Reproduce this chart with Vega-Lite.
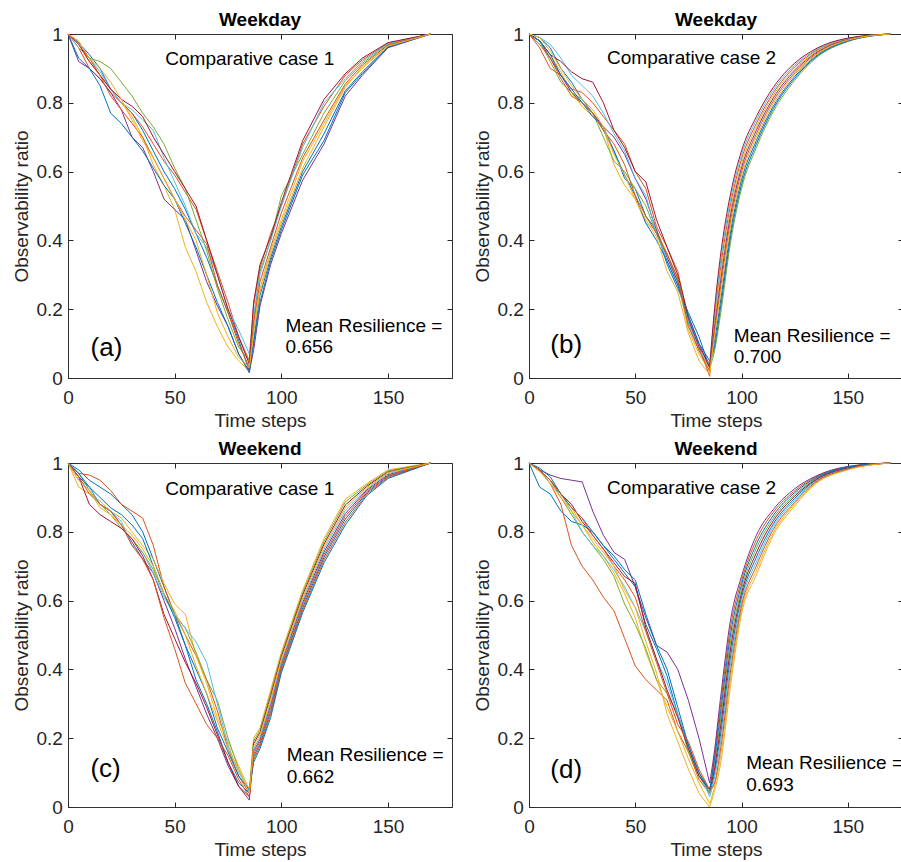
{
"$schema": "https://vega.github.io/schema/vega-lite/v6.json",
"padding": {"left": 12, "top": 10, "right": 0, "bottom": 0},
"autosize": {"type": "pad"},
"config": {
 "font": "Liberation Sans",
 "view": {"stroke": "#333333", "strokeWidth": 1},
 "range": {"category": ["#0072BD","#D95319","#EDB120","#7E2F8E","#77AC30","#4DBEEE","#A2142F","#0072BD","#D95319","#EDB120"]},
 "legend": {"disable": true},
 "axis": {"grid": false, "domain": false, "tickSize": -5, "tickColor": "#262626", "tickWidth": 1, "labelFont": "Liberation Sans", "labelFontSize": 19, "labelColor": "#262626", "titleFont": "Liberation Sans", "titleFontSize": 19, "titleFontWeight": "normal", "titleColor": "#262626", "labelFlush": false},
 "axisBottom": {"labelPadding": 15.7, "titlePadding": 4},
 "axisLeft": {"labelPadding": 10.7, "titlePadding": 4},
 "title": {"font": "Liberation Sans", "fontSize": 19, "fontWeight": "bold", "color": "#000000", "offset": -5, "baseline": "alphabetic", "anchor": "middle", "frame": "group"},
 "line": {"strokeWidth": 1}
},
"datasets": {
"a": [
{"s":0,"t":0,"v":1},{"s":0,"t":5,"v":0.975},{"s":0,"t":10,"v":0.94},{"s":0,"t":15,"v":0.9},{"s":0,"t":20,"v":0.84},{"s":0,"t":25,"v":0.8},{"s":0,"t":30,"v":0.77},{"s":0,"t":35,"v":0.72},{"s":0,"t":40,"v":0.66},{"s":0,"t":45,"v":0.6},{"s":0,"t":50,"v":0.55},{"s":0,"t":55,"v":0.49},{"s":0,"t":60,"v":0.42},{"s":0,"t":65,"v":0.35},{"s":0,"t":70,"v":0.27},{"s":0,"t":75,"v":0.19},{"s":0,"t":80,"v":0.11},{"s":0,"t":85,"v":0.02},{"s":0,"t":87,"v":0.11},{"s":0,"t":90,"v":0.24},{"s":0,"t":95,"v":0.35},{"s":0,"t":100,"v":0.44},{"s":0,"t":110,"v":0.6},{"s":0,"t":120,"v":0.71},{"s":0,"t":130,"v":0.835},{"s":0,"t":138,"v":0.89},{"s":0,"t":150,"v":0.963},{"s":0,"t":170,"v":1},
{"s":1,"t":0,"v":1},{"s":1,"t":5,"v":0.96},{"s":1,"t":10,"v":0.9},{"s":1,"t":15,"v":0.87},{"s":1,"t":20,"v":0.83},{"s":1,"t":25,"v":0.8},{"s":1,"t":30,"v":0.77},{"s":1,"t":35,"v":0.73},{"s":1,"t":40,"v":0.68},{"s":1,"t":45,"v":0.63},{"s":1,"t":50,"v":0.59},{"s":1,"t":55,"v":0.54},{"s":1,"t":60,"v":0.49},{"s":1,"t":65,"v":0.4},{"s":1,"t":70,"v":0.31},{"s":1,"t":75,"v":0.22},{"s":1,"t":80,"v":0.12},{"s":1,"t":85,"v":0.05},{"s":1,"t":87,"v":0.21},{"s":1,"t":90,"v":0.32},{"s":1,"t":95,"v":0.42},{"s":1,"t":100,"v":0.5},{"s":1,"t":110,"v":0.68},{"s":1,"t":120,"v":0.79},{"s":1,"t":130,"v":0.88},{"s":1,"t":138,"v":0.925},{"s":1,"t":150,"v":0.973},{"s":1,"t":170,"v":1},
{"s":2,"t":0,"v":1},{"s":2,"t":5,"v":0.97},{"s":2,"t":10,"v":0.92},{"s":2,"t":15,"v":0.88},{"s":2,"t":20,"v":0.84},{"s":2,"t":25,"v":0.8},{"s":2,"t":30,"v":0.76},{"s":2,"t":35,"v":0.7},{"s":2,"t":40,"v":0.62},{"s":2,"t":45,"v":0.56},{"s":2,"t":50,"v":0.49},{"s":2,"t":55,"v":0.38},{"s":2,"t":60,"v":0.31},{"s":2,"t":65,"v":0.22},{"s":2,"t":70,"v":0.15},{"s":2,"t":75,"v":0.09},{"s":2,"t":80,"v":0.05},{"s":2,"t":85,"v":0.02},{"s":2,"t":87,"v":0.14},{"s":2,"t":90,"v":0.26},{"s":2,"t":95,"v":0.37},{"s":2,"t":100,"v":0.46},{"s":2,"t":110,"v":0.63},{"s":2,"t":120,"v":0.74},{"s":2,"t":130,"v":0.85},{"s":2,"t":138,"v":0.9},{"s":2,"t":150,"v":0.966},{"s":2,"t":170,"v":1},
{"s":3,"t":0,"v":1},{"s":3,"t":5,"v":0.92},{"s":3,"t":10,"v":0.9},{"s":3,"t":15,"v":0.87},{"s":3,"t":20,"v":0.83},{"s":3,"t":25,"v":0.78},{"s":3,"t":30,"v":0.7},{"s":3,"t":35,"v":0.67},{"s":3,"t":40,"v":0.6},{"s":3,"t":45,"v":0.52},{"s":3,"t":50,"v":0.49},{"s":3,"t":55,"v":0.46},{"s":3,"t":60,"v":0.37},{"s":3,"t":65,"v":0.28},{"s":3,"t":70,"v":0.21},{"s":3,"t":75,"v":0.15},{"s":3,"t":80,"v":0.07},{"s":3,"t":85,"v":0.02},{"s":3,"t":87,"v":0.08},{"s":3,"t":90,"v":0.21},{"s":3,"t":95,"v":0.33},{"s":3,"t":100,"v":0.42},{"s":3,"t":110,"v":0.575},{"s":3,"t":120,"v":0.68},{"s":3,"t":130,"v":0.82},{"s":3,"t":138,"v":0.88},{"s":3,"t":150,"v":0.96},{"s":3,"t":170,"v":1},
{"s":4,"t":0,"v":1},{"s":4,"t":5,"v":0.97},{"s":4,"t":10,"v":0.93},{"s":4,"t":15,"v":0.92},{"s":4,"t":20,"v":0.9},{"s":4,"t":25,"v":0.86},{"s":4,"t":30,"v":0.82},{"s":4,"t":35,"v":0.77},{"s":4,"t":40,"v":0.73},{"s":4,"t":45,"v":0.68},{"s":4,"t":50,"v":0.61},{"s":4,"t":55,"v":0.55},{"s":4,"t":60,"v":0.46},{"s":4,"t":65,"v":0.37},{"s":4,"t":70,"v":0.26},{"s":4,"t":75,"v":0.17},{"s":4,"t":80,"v":0.09},{"s":4,"t":85,"v":0.05},{"s":4,"t":87,"v":0.17},{"s":4,"t":90,"v":0.31},{"s":4,"t":95,"v":0.4},{"s":4,"t":100,"v":0.53},{"s":4,"t":110,"v":0.65},{"s":4,"t":120,"v":0.77},{"s":4,"t":130,"v":0.865},{"s":4,"t":138,"v":0.915},{"s":4,"t":150,"v":0.97},{"s":4,"t":170,"v":1},
{"s":5,"t":0,"v":1},{"s":5,"t":5,"v":0.96},{"s":5,"t":10,"v":0.93},{"s":5,"t":15,"v":0.89},{"s":5,"t":20,"v":0.84},{"s":5,"t":25,"v":0.8},{"s":5,"t":30,"v":0.78},{"s":5,"t":35,"v":0.75},{"s":5,"t":40,"v":0.72},{"s":5,"t":45,"v":0.64},{"s":5,"t":50,"v":0.57},{"s":5,"t":55,"v":0.5},{"s":5,"t":60,"v":0.42},{"s":5,"t":65,"v":0.38},{"s":5,"t":70,"v":0.3},{"s":5,"t":75,"v":0.2},{"s":5,"t":80,"v":0.14},{"s":5,"t":85,"v":0.07},{"s":5,"t":87,"v":0.18},{"s":5,"t":90,"v":0.3},{"s":5,"t":95,"v":0.4},{"s":5,"t":100,"v":0.5},{"s":5,"t":110,"v":0.67},{"s":5,"t":120,"v":0.8},{"s":5,"t":130,"v":0.87},{"s":5,"t":138,"v":0.92},{"s":5,"t":150,"v":0.972},{"s":5,"t":170,"v":1},
{"s":6,"t":0,"v":1},{"s":6,"t":5,"v":0.97},{"s":6,"t":10,"v":0.92},{"s":6,"t":15,"v":0.88},{"s":6,"t":20,"v":0.84},{"s":6,"t":25,"v":0.81},{"s":6,"t":30,"v":0.79},{"s":6,"t":35,"v":0.76},{"s":6,"t":40,"v":0.7},{"s":6,"t":45,"v":0.65},{"s":6,"t":50,"v":0.6},{"s":6,"t":55,"v":0.55},{"s":6,"t":60,"v":0.5},{"s":6,"t":65,"v":0.4},{"s":6,"t":70,"v":0.3},{"s":6,"t":75,"v":0.2},{"s":6,"t":80,"v":0.12},{"s":6,"t":85,"v":0.04},{"s":6,"t":87,"v":0.22},{"s":6,"t":90,"v":0.33},{"s":6,"t":95,"v":0.41},{"s":6,"t":100,"v":0.51},{"s":6,"t":110,"v":0.69},{"s":6,"t":120,"v":0.81},{"s":6,"t":130,"v":0.885},{"s":6,"t":138,"v":0.93},{"s":6,"t":150,"v":0.975},{"s":6,"t":170,"v":1},
{"s":7,"t":0,"v":1},{"s":7,"t":5,"v":0.93},{"s":7,"t":10,"v":0.9},{"s":7,"t":15,"v":0.85},{"s":7,"t":20,"v":0.77},{"s":7,"t":25,"v":0.74},{"s":7,"t":30,"v":0.7},{"s":7,"t":35,"v":0.66},{"s":7,"t":40,"v":0.61},{"s":7,"t":45,"v":0.56},{"s":7,"t":50,"v":0.52},{"s":7,"t":55,"v":0.45},{"s":7,"t":60,"v":0.38},{"s":7,"t":65,"v":0.3},{"s":7,"t":70,"v":0.22},{"s":7,"t":75,"v":0.15},{"s":7,"t":80,"v":0.07},{"s":7,"t":85,"v":0.015},{"s":7,"t":87,"v":0.1},{"s":7,"t":90,"v":0.22},{"s":7,"t":95,"v":0.34},{"s":7,"t":100,"v":0.43},{"s":7,"t":110,"v":0.59},{"s":7,"t":120,"v":0.69},{"s":7,"t":130,"v":0.83},{"s":7,"t":138,"v":0.885},{"s":7,"t":150,"v":0.962},{"s":7,"t":170,"v":1},
{"s":8,"t":0,"v":1},{"s":8,"t":5,"v":0.97},{"s":8,"t":10,"v":0.93},{"s":8,"t":15,"v":0.88},{"s":8,"t":20,"v":0.82},{"s":8,"t":25,"v":0.78},{"s":8,"t":30,"v":0.74},{"s":8,"t":35,"v":0.7},{"s":8,"t":40,"v":0.64},{"s":8,"t":45,"v":0.58},{"s":8,"t":50,"v":0.52},{"s":8,"t":55,"v":0.47},{"s":8,"t":60,"v":0.43},{"s":8,"t":65,"v":0.39},{"s":8,"t":70,"v":0.27},{"s":8,"t":75,"v":0.19},{"s":8,"t":80,"v":0.1},{"s":8,"t":85,"v":0.03},{"s":8,"t":87,"v":0.16},{"s":8,"t":90,"v":0.28},{"s":8,"t":95,"v":0.38},{"s":8,"t":100,"v":0.48},{"s":8,"t":110,"v":0.64},{"s":8,"t":120,"v":0.75},{"s":8,"t":130,"v":0.855},{"s":8,"t":138,"v":0.91},{"s":8,"t":150,"v":0.968},{"s":8,"t":170,"v":1},
{"s":9,"t":0,"v":1},{"s":9,"t":5,"v":0.98},{"s":9,"t":10,"v":0.93},{"s":9,"t":15,"v":0.9},{"s":9,"t":20,"v":0.86},{"s":9,"t":25,"v":0.81},{"s":9,"t":30,"v":0.75},{"s":9,"t":35,"v":0.69},{"s":9,"t":40,"v":0.64},{"s":9,"t":45,"v":0.58},{"s":9,"t":50,"v":0.52},{"s":9,"t":55,"v":0.46},{"s":9,"t":60,"v":0.4},{"s":9,"t":65,"v":0.3},{"s":9,"t":70,"v":0.19},{"s":9,"t":75,"v":0.12},{"s":9,"t":80,"v":0.06},{"s":9,"t":85,"v":0.03},{"s":9,"t":87,"v":0.13},{"s":9,"t":90,"v":0.25},{"s":9,"t":95,"v":0.36},{"s":9,"t":100,"v":0.45},{"s":9,"t":110,"v":0.61},{"s":9,"t":120,"v":0.73},{"s":9,"t":130,"v":0.845},{"s":9,"t":138,"v":0.905},{"s":9,"t":150,"v":0.965},{"s":9,"t":170,"v":1}
],
"b": [
{"s":0,"t":0,"v":1},{"s":0,"t":5,"v":0.99},{"s":0,"t":10,"v":0.96},{"s":0,"t":15,"v":0.9},{"s":0,"t":20,"v":0.86},{"s":0,"t":25,"v":0.81},{"s":0,"t":30,"v":0.77},{"s":0,"t":35,"v":0.72},{"s":0,"t":40,"v":0.66},{"s":0,"t":45,"v":0.58},{"s":0,"t":50,"v":0.55},{"s":0,"t":55,"v":0.47},{"s":0,"t":60,"v":0.43},{"s":0,"t":65,"v":0.33},{"s":0,"t":70,"v":0.26},{"s":0,"t":75,"v":0.19},{"s":0,"t":80,"v":0.12},{"s":0,"t":85,"v":0.03},{"s":0,"t":87,"v":0.095},{"s":0,"t":90,"v":0.218},{"s":0,"t":95,"v":0.431},{"s":0,"t":100,"v":0.575},{"s":0,"t":107,"v":0.69},{"s":0,"t":115,"v":0.79},{"s":0,"t":125,"v":0.876},{"s":0,"t":135,"v":0.936},{"s":0,"t":150,"v":0.981},{"s":0,"t":170,"v":1},
{"s":1,"t":0,"v":1},{"s":1,"t":5,"v":0.96},{"s":1,"t":10,"v":0.9},{"s":1,"t":15,"v":0.88},{"s":1,"t":20,"v":0.84},{"s":1,"t":25,"v":0.83},{"s":1,"t":30,"v":0.8},{"s":1,"t":35,"v":0.76},{"s":1,"t":40,"v":0.72},{"s":1,"t":45,"v":0.68},{"s":1,"t":50,"v":0.6},{"s":1,"t":55,"v":0.55},{"s":1,"t":60,"v":0.44},{"s":1,"t":65,"v":0.38},{"s":1,"t":70,"v":0.31},{"s":1,"t":75,"v":0.17},{"s":1,"t":80,"v":0.09},{"s":1,"t":85,"v":0.005},{"s":1,"t":87,"v":0.156},{"s":1,"t":90,"v":0.312},{"s":1,"t":95,"v":0.509},{"s":1,"t":100,"v":0.636},{"s":1,"t":107,"v":0.74},{"s":1,"t":115,"v":0.829},{"s":1,"t":125,"v":0.904},{"s":1,"t":135,"v":0.951},{"s":1,"t":150,"v":0.986},{"s":1,"t":170,"v":1},
{"s":2,"t":0,"v":1},{"s":2,"t":5,"v":0.98},{"s":2,"t":10,"v":0.94},{"s":2,"t":15,"v":0.89},{"s":2,"t":20,"v":0.83},{"s":2,"t":25,"v":0.79},{"s":2,"t":30,"v":0.76},{"s":2,"t":35,"v":0.73},{"s":2,"t":40,"v":0.62},{"s":2,"t":45,"v":0.56},{"s":2,"t":50,"v":0.52},{"s":2,"t":55,"v":0.45},{"s":2,"t":60,"v":0.43},{"s":2,"t":65,"v":0.36},{"s":2,"t":70,"v":0.28},{"s":2,"t":75,"v":0.14},{"s":2,"t":80,"v":0.07},{"s":2,"t":85,"v":0.02},{"s":2,"t":87,"v":0.143},{"s":2,"t":90,"v":0.293},{"s":2,"t":95,"v":0.493},{"s":2,"t":100,"v":0.623},{"s":2,"t":107,"v":0.73},{"s":2,"t":115,"v":0.822},{"s":2,"t":125,"v":0.898},{"s":2,"t":135,"v":0.948},{"s":2,"t":150,"v":0.985},{"s":2,"t":170,"v":1},
{"s":3,"t":0,"v":1},{"s":3,"t":5,"v":0.98},{"s":3,"t":10,"v":0.93},{"s":3,"t":15,"v":0.88},{"s":3,"t":20,"v":0.83},{"s":3,"t":25,"v":0.8},{"s":3,"t":30,"v":0.77},{"s":3,"t":35,"v":0.73},{"s":3,"t":40,"v":0.7},{"s":3,"t":45,"v":0.65},{"s":3,"t":50,"v":0.58},{"s":3,"t":55,"v":0.52},{"s":3,"t":60,"v":0.43},{"s":3,"t":65,"v":0.35},{"s":3,"t":70,"v":0.28},{"s":3,"t":75,"v":0.17},{"s":3,"t":80,"v":0.09},{"s":3,"t":85,"v":0.04},{"s":3,"t":87,"v":0.131},{"s":3,"t":90,"v":0.274},{"s":3,"t":95,"v":0.478},{"s":3,"t":100,"v":0.611},{"s":3,"t":107,"v":0.72},{"s":3,"t":115,"v":0.814},{"s":3,"t":125,"v":0.893},{"s":3,"t":135,"v":0.945},{"s":3,"t":150,"v":0.984},{"s":3,"t":170,"v":1},
{"s":4,"t":0,"v":1},{"s":4,"t":5,"v":0.98},{"s":4,"t":10,"v":0.92},{"s":4,"t":15,"v":0.86},{"s":4,"t":20,"v":0.83},{"s":4,"t":25,"v":0.81},{"s":4,"t":30,"v":0.77},{"s":4,"t":35,"v":0.7},{"s":4,"t":40,"v":0.63},{"s":4,"t":45,"v":0.6},{"s":4,"t":50,"v":0.55},{"s":4,"t":55,"v":0.5},{"s":4,"t":60,"v":0.42},{"s":4,"t":65,"v":0.36},{"s":4,"t":70,"v":0.29},{"s":4,"t":75,"v":0.16},{"s":4,"t":80,"v":0.08},{"s":4,"t":85,"v":0.03},{"s":4,"t":87,"v":0.07},{"s":4,"t":90,"v":0.18},{"s":4,"t":95,"v":0.4},{"s":4,"t":100,"v":0.55},{"s":4,"t":107,"v":0.67},{"s":4,"t":115,"v":0.775},{"s":4,"t":125,"v":0.865},{"s":4,"t":135,"v":0.93},{"s":4,"t":150,"v":0.978},{"s":4,"t":170,"v":1},
{"s":5,"t":0,"v":1},{"s":5,"t":5,"v":0.99},{"s":5,"t":10,"v":0.97},{"s":5,"t":15,"v":0.93},{"s":5,"t":20,"v":0.88},{"s":5,"t":25,"v":0.85},{"s":5,"t":30,"v":0.82},{"s":5,"t":35,"v":0.77},{"s":5,"t":40,"v":0.71},{"s":5,"t":45,"v":0.66},{"s":5,"t":50,"v":0.58},{"s":5,"t":55,"v":0.53},{"s":5,"t":60,"v":0.42},{"s":5,"t":65,"v":0.34},{"s":5,"t":70,"v":0.27},{"s":5,"t":75,"v":0.16},{"s":5,"t":80,"v":0.08},{"s":5,"t":85,"v":0.04},{"s":5,"t":87,"v":0.168},{"s":5,"t":90,"v":0.331},{"s":5,"t":95,"v":0.524},{"s":5,"t":100,"v":0.648},{"s":5,"t":107,"v":0.75},{"s":5,"t":115,"v":0.837},{"s":5,"t":125,"v":0.909},{"s":5,"t":135,"v":0.954},{"s":5,"t":150,"v":0.987},{"s":5,"t":170,"v":1},
{"s":6,"t":0,"v":1},{"s":6,"t":5,"v":0.98},{"s":6,"t":10,"v":0.94},{"s":6,"t":15,"v":0.92},{"s":6,"t":20,"v":0.89},{"s":6,"t":25,"v":0.87},{"s":6,"t":30,"v":0.86},{"s":6,"t":35,"v":0.8},{"s":6,"t":40,"v":0.72},{"s":6,"t":45,"v":0.67},{"s":6,"t":50,"v":0.6},{"s":6,"t":55,"v":0.57},{"s":6,"t":60,"v":0.46},{"s":6,"t":65,"v":0.38},{"s":6,"t":70,"v":0.3},{"s":6,"t":75,"v":0.18},{"s":6,"t":80,"v":0.1},{"s":6,"t":85,"v":0.03},{"s":6,"t":87,"v":0.18},{"s":6,"t":90,"v":0.35},{"s":6,"t":95,"v":0.54},{"s":6,"t":100,"v":0.66},{"s":6,"t":107,"v":0.76},{"s":6,"t":115,"v":0.845},{"s":6,"t":125,"v":0.915},{"s":6,"t":135,"v":0.957},{"s":6,"t":150,"v":0.988},{"s":6,"t":170,"v":1},
{"s":7,"t":0,"v":1},{"s":7,"t":5,"v":0.98},{"s":7,"t":10,"v":0.94},{"s":7,"t":15,"v":0.88},{"s":7,"t":20,"v":0.84},{"s":7,"t":25,"v":0.8},{"s":7,"t":30,"v":0.76},{"s":7,"t":35,"v":0.73},{"s":7,"t":40,"v":0.66},{"s":7,"t":45,"v":0.59},{"s":7,"t":50,"v":0.53},{"s":7,"t":55,"v":0.45},{"s":7,"t":60,"v":0.4},{"s":7,"t":65,"v":0.34},{"s":7,"t":70,"v":0.27},{"s":7,"t":75,"v":0.18},{"s":7,"t":80,"v":0.1},{"s":7,"t":85,"v":0.05},{"s":7,"t":87,"v":0.082},{"s":7,"t":90,"v":0.199},{"s":7,"t":95,"v":0.416},{"s":7,"t":100,"v":0.562},{"s":7,"t":107,"v":0.68},{"s":7,"t":115,"v":0.783},{"s":7,"t":125,"v":0.871},{"s":7,"t":135,"v":0.933},{"s":7,"t":150,"v":0.979},{"s":7,"t":170,"v":1},
{"s":8,"t":0,"v":1},{"s":8,"t":5,"v":0.97},{"s":8,"t":10,"v":0.93},{"s":8,"t":15,"v":0.87},{"s":8,"t":20,"v":0.82},{"s":8,"t":25,"v":0.8},{"s":8,"t":30,"v":0.77},{"s":8,"t":35,"v":0.72},{"s":8,"t":40,"v":0.68},{"s":8,"t":45,"v":0.62},{"s":8,"t":50,"v":0.53},{"s":8,"t":55,"v":0.47},{"s":8,"t":60,"v":0.42},{"s":8,"t":65,"v":0.36},{"s":8,"t":70,"v":0.29},{"s":8,"t":75,"v":0.15},{"s":8,"t":80,"v":0.08},{"s":8,"t":85,"v":0.02},{"s":8,"t":87,"v":0.119},{"s":8,"t":90,"v":0.256},{"s":8,"t":95,"v":0.462},{"s":8,"t":100,"v":0.599},{"s":8,"t":107,"v":0.71},{"s":8,"t":115,"v":0.806},{"s":8,"t":125,"v":0.887},{"s":8,"t":135,"v":0.942},{"s":8,"t":150,"v":0.983},{"s":8,"t":170,"v":1},
{"s":9,"t":0,"v":1},{"s":9,"t":5,"v":0.99},{"s":9,"t":10,"v":0.95},{"s":9,"t":15,"v":0.9},{"s":9,"t":20,"v":0.85},{"s":9,"t":25,"v":0.81},{"s":9,"t":30,"v":0.78},{"s":9,"t":35,"v":0.73},{"s":9,"t":40,"v":0.65},{"s":9,"t":45,"v":0.59},{"s":9,"t":50,"v":0.52},{"s":9,"t":55,"v":0.46},{"s":9,"t":60,"v":0.41},{"s":9,"t":65,"v":0.31},{"s":9,"t":70,"v":0.25},{"s":9,"t":75,"v":0.13},{"s":9,"t":80,"v":0.05},{"s":9,"t":85,"v":0.01},{"s":9,"t":87,"v":0.107},{"s":9,"t":90,"v":0.237},{"s":9,"t":95,"v":0.447},{"s":9,"t":100,"v":0.587},{"s":9,"t":107,"v":0.7},{"s":9,"t":115,"v":0.798},{"s":9,"t":125,"v":0.882},{"s":9,"t":135,"v":0.939},{"s":9,"t":150,"v":0.982},{"s":9,"t":170,"v":1}
],
"c": [
{"s":0,"t":0,"v":1},{"s":0,"t":5,"v":0.98},{"s":0,"t":10,"v":0.95},{"s":0,"t":15,"v":0.93},{"s":0,"t":20,"v":0.91},{"s":0,"t":25,"v":0.88},{"s":0,"t":30,"v":0.85},{"s":0,"t":35,"v":0.8},{"s":0,"t":40,"v":0.72},{"s":0,"t":45,"v":0.64},{"s":0,"t":50,"v":0.56},{"s":0,"t":55,"v":0.47},{"s":0,"t":60,"v":0.37},{"s":0,"t":65,"v":0.3},{"s":0,"t":70,"v":0.22},{"s":0,"t":75,"v":0.13},{"s":0,"t":80,"v":0.07},{"s":0,"t":85,"v":0.04},{"s":0,"t":87,"v":0.146},{"s":0,"t":90,"v":0.183},{"s":0,"t":95,"v":0.278},{"s":0,"t":100,"v":0.403},{"s":0,"t":110,"v":0.579},{"s":0,"t":120,"v":0.726},{"s":0,"t":130,"v":0.837},{"s":0,"t":140,"v":0.913},{"s":0,"t":150,"v":0.961},{"s":0,"t":170,"v":1},
{"s":1,"t":0,"v":1},{"s":1,"t":5,"v":0.97},{"s":1,"t":10,"v":0.965},{"s":1,"t":15,"v":0.95},{"s":1,"t":20,"v":0.92},{"s":1,"t":25,"v":0.88},{"s":1,"t":30,"v":0.86},{"s":1,"t":35,"v":0.84},{"s":1,"t":40,"v":0.76},{"s":1,"t":45,"v":0.64},{"s":1,"t":50,"v":0.56},{"s":1,"t":55,"v":0.5},{"s":1,"t":60,"v":0.44},{"s":1,"t":65,"v":0.37},{"s":1,"t":70,"v":0.28},{"s":1,"t":75,"v":0.17},{"s":1,"t":80,"v":0.09},{"s":1,"t":85,"v":0.04},{"s":1,"t":87,"v":0.138},{"s":1,"t":90,"v":0.177},{"s":1,"t":95,"v":0.269},{"s":1,"t":100,"v":0.397},{"s":1,"t":110,"v":0.572},{"s":1,"t":120,"v":0.718},{"s":1,"t":130,"v":0.828},{"s":1,"t":140,"v":0.909},{"s":1,"t":150,"v":0.958},{"s":1,"t":170,"v":1},
{"s":2,"t":0,"v":1},{"s":2,"t":5,"v":0.93},{"s":2,"t":10,"v":0.91},{"s":2,"t":15,"v":0.89},{"s":2,"t":20,"v":0.86},{"s":2,"t":25,"v":0.84},{"s":2,"t":30,"v":0.8},{"s":2,"t":35,"v":0.76},{"s":2,"t":40,"v":0.72},{"s":2,"t":45,"v":0.65},{"s":2,"t":50,"v":0.59},{"s":2,"t":55,"v":0.56},{"s":2,"t":60,"v":0.44},{"s":2,"t":65,"v":0.36},{"s":2,"t":70,"v":0.26},{"s":2,"t":75,"v":0.19},{"s":2,"t":80,"v":0.12},{"s":2,"t":85,"v":0.05},{"s":2,"t":87,"v":0.2},{"s":2,"t":90,"v":0.23},{"s":2,"t":95,"v":0.34},{"s":2,"t":100,"v":0.45},{"s":2,"t":110,"v":0.63},{"s":2,"t":120,"v":0.78},{"s":2,"t":130,"v":0.895},{"s":2,"t":140,"v":0.94},{"s":2,"t":150,"v":0.98},{"s":2,"t":170,"v":1},
{"s":3,"t":0,"v":1},{"s":3,"t":5,"v":0.96},{"s":3,"t":10,"v":0.93},{"s":3,"t":15,"v":0.88},{"s":3,"t":20,"v":0.86},{"s":3,"t":25,"v":0.82},{"s":3,"t":30,"v":0.77},{"s":3,"t":35,"v":0.72},{"s":3,"t":40,"v":0.68},{"s":3,"t":45,"v":0.6},{"s":3,"t":50,"v":0.52},{"s":3,"t":55,"v":0.43},{"s":3,"t":60,"v":0.35},{"s":3,"t":65,"v":0.27},{"s":3,"t":70,"v":0.2},{"s":3,"t":75,"v":0.12},{"s":3,"t":80,"v":0.06},{"s":3,"t":85,"v":0.02},{"s":3,"t":87,"v":0.161},{"s":3,"t":90,"v":0.197},{"s":3,"t":95,"v":0.296},{"s":3,"t":100,"v":0.417},{"s":3,"t":110,"v":0.594},{"s":3,"t":120,"v":0.741},{"s":3,"t":130,"v":0.853},{"s":3,"t":140,"v":0.921},{"s":3,"t":150,"v":0.966},{"s":3,"t":170,"v":1},
{"s":4,"t":0,"v":1},{"s":4,"t":5,"v":0.97},{"s":4,"t":10,"v":0.92},{"s":4,"t":15,"v":0.88},{"s":4,"t":20,"v":0.85},{"s":4,"t":25,"v":0.81},{"s":4,"t":30,"v":0.78},{"s":4,"t":35,"v":0.74},{"s":4,"t":40,"v":0.69},{"s":4,"t":45,"v":0.62},{"s":4,"t":50,"v":0.56},{"s":4,"t":55,"v":0.52},{"s":4,"t":60,"v":0.45},{"s":4,"t":65,"v":0.37},{"s":4,"t":70,"v":0.31},{"s":4,"t":75,"v":0.2},{"s":4,"t":80,"v":0.11},{"s":4,"t":85,"v":0.04},{"s":4,"t":87,"v":0.192},{"s":4,"t":90,"v":0.223},{"s":4,"t":95,"v":0.331},{"s":4,"t":100,"v":0.443},{"s":4,"t":110,"v":0.623},{"s":4,"t":120,"v":0.772},{"s":4,"t":130,"v":0.887},{"s":4,"t":140,"v":0.936},{"s":4,"t":150,"v":0.977},{"s":4,"t":170,"v":1},
{"s":5,"t":0,"v":1},{"s":5,"t":5,"v":0.95},{"s":5,"t":10,"v":0.93},{"s":5,"t":15,"v":0.88},{"s":5,"t":20,"v":0.86},{"s":5,"t":25,"v":0.83},{"s":5,"t":30,"v":0.76},{"s":5,"t":35,"v":0.74},{"s":5,"t":40,"v":0.68},{"s":5,"t":45,"v":0.61},{"s":5,"t":50,"v":0.56},{"s":5,"t":55,"v":0.52},{"s":5,"t":60,"v":0.48},{"s":5,"t":65,"v":0.42},{"s":5,"t":70,"v":0.3},{"s":5,"t":75,"v":0.18},{"s":5,"t":80,"v":0.1},{"s":5,"t":85,"v":0.05},{"s":5,"t":87,"v":0.169},{"s":5,"t":90,"v":0.203},{"s":5,"t":95,"v":0.304},{"s":5,"t":100,"v":0.423},{"s":5,"t":110,"v":0.601},{"s":5,"t":120,"v":0.749},{"s":5,"t":130,"v":0.862},{"s":5,"t":140,"v":0.924},{"s":5,"t":150,"v":0.969},{"s":5,"t":170,"v":1},
{"s":6,"t":0,"v":1},{"s":6,"t":5,"v":0.96},{"s":6,"t":10,"v":0.88},{"s":6,"t":15,"v":0.85},{"s":6,"t":20,"v":0.83},{"s":6,"t":25,"v":0.81},{"s":6,"t":30,"v":0.78},{"s":6,"t":35,"v":0.73},{"s":6,"t":40,"v":0.66},{"s":6,"t":45,"v":0.56},{"s":6,"t":50,"v":0.49},{"s":6,"t":55,"v":0.42},{"s":6,"t":60,"v":0.36},{"s":6,"t":65,"v":0.29},{"s":6,"t":70,"v":0.21},{"s":6,"t":75,"v":0.13},{"s":6,"t":80,"v":0.06},{"s":6,"t":85,"v":0.03},{"s":6,"t":87,"v":0.184},{"s":6,"t":90,"v":0.217},{"s":6,"t":95,"v":0.322},{"s":6,"t":100,"v":0.437},{"s":6,"t":110,"v":0.616},{"s":6,"t":120,"v":0.764},{"s":6,"t":130,"v":0.878},{"s":6,"t":140,"v":0.932},{"s":6,"t":150,"v":0.974},{"s":6,"t":170,"v":1},
{"s":7,"t":0,"v":1},{"s":7,"t":5,"v":0.97},{"s":7,"t":10,"v":0.93},{"s":7,"t":15,"v":0.9},{"s":7,"t":20,"v":0.87},{"s":7,"t":25,"v":0.85},{"s":7,"t":30,"v":0.82},{"s":7,"t":35,"v":0.78},{"s":7,"t":40,"v":0.7},{"s":7,"t":45,"v":0.62},{"s":7,"t":50,"v":0.55},{"s":7,"t":55,"v":0.47},{"s":7,"t":60,"v":0.4},{"s":7,"t":65,"v":0.33},{"s":7,"t":70,"v":0.23},{"s":7,"t":75,"v":0.16},{"s":7,"t":80,"v":0.09},{"s":7,"t":85,"v":0.05},{"s":7,"t":87,"v":0.13},{"s":7,"t":90,"v":0.17},{"s":7,"t":95,"v":0.26},{"s":7,"t":100,"v":0.39},{"s":7,"t":110,"v":0.565},{"s":7,"t":120,"v":0.71},{"s":7,"t":130,"v":0.82},{"s":7,"t":140,"v":0.905},{"s":7,"t":150,"v":0.955},{"s":7,"t":170,"v":1},
{"s":8,"t":0,"v":1},{"s":8,"t":5,"v":0.96},{"s":8,"t":10,"v":0.91},{"s":8,"t":15,"v":0.88},{"s":8,"t":20,"v":0.86},{"s":8,"t":25,"v":0.82},{"s":8,"t":30,"v":0.76},{"s":8,"t":35,"v":0.72},{"s":8,"t":40,"v":0.66},{"s":8,"t":45,"v":0.55},{"s":8,"t":50,"v":0.46},{"s":8,"t":55,"v":0.36},{"s":8,"t":60,"v":0.3},{"s":8,"t":65,"v":0.24},{"s":8,"t":70,"v":0.2},{"s":8,"t":75,"v":0.15},{"s":8,"t":80,"v":0.08},{"s":8,"t":85,"v":0.03},{"s":8,"t":87,"v":0.153},{"s":8,"t":90,"v":0.19},{"s":8,"t":95,"v":0.287},{"s":8,"t":100,"v":0.41},{"s":8,"t":110,"v":0.587},{"s":8,"t":120,"v":0.733},{"s":8,"t":130,"v":0.845},{"s":8,"t":140,"v":0.917},{"s":8,"t":150,"v":0.963},{"s":8,"t":170,"v":1},
{"s":9,"t":0,"v":1},{"s":9,"t":5,"v":0.95},{"s":9,"t":10,"v":0.92},{"s":9,"t":15,"v":0.87},{"s":9,"t":20,"v":0.85},{"s":9,"t":25,"v":0.82},{"s":9,"t":30,"v":0.79},{"s":9,"t":35,"v":0.75},{"s":9,"t":40,"v":0.7},{"s":9,"t":45,"v":0.62},{"s":9,"t":50,"v":0.57},{"s":9,"t":55,"v":0.5},{"s":9,"t":60,"v":0.41},{"s":9,"t":65,"v":0.33},{"s":9,"t":70,"v":0.25},{"s":9,"t":75,"v":0.17},{"s":9,"t":80,"v":0.11},{"s":9,"t":85,"v":0.04},{"s":9,"t":87,"v":0.177},{"s":9,"t":90,"v":0.21},{"s":9,"t":95,"v":0.313},{"s":9,"t":100,"v":0.43},{"s":9,"t":110,"v":0.608},{"s":9,"t":120,"v":0.757},{"s":9,"t":130,"v":0.87},{"s":9,"t":140,"v":0.928},{"s":9,"t":150,"v":0.972},{"s":9,"t":170,"v":1}
],
"d": [
{"s":0,"t":0,"v":1},{"s":0,"t":5,"v":0.93},{"s":0,"t":10,"v":0.91},{"s":0,"t":15,"v":0.86},{"s":0,"t":20,"v":0.83},{"s":0,"t":25,"v":0.82},{"s":0,"t":30,"v":0.8},{"s":0,"t":35,"v":0.76},{"s":0,"t":40,"v":0.72},{"s":0,"t":45,"v":0.68},{"s":0,"t":50,"v":0.64},{"s":0,"t":55,"v":0.53},{"s":0,"t":60,"v":0.46},{"s":0,"t":65,"v":0.38},{"s":0,"t":70,"v":0.27},{"s":0,"t":75,"v":0.18},{"s":0,"t":80,"v":0.1},{"s":0,"t":85,"v":0.04},{"s":0,"t":87,"v":0.089},{"s":0,"t":90,"v":0.204},{"s":0,"t":95,"v":0.444},{"s":0,"t":100,"v":0.609},{"s":0,"t":107,"v":0.726},{"s":0,"t":115,"v":0.823},{"s":0,"t":125,"v":0.897},{"s":0,"t":135,"v":0.95},{"s":0,"t":150,"v":0.984},{"s":0,"t":170,"v":1},
{"s":1,"t":0,"v":1},{"s":1,"t":5,"v":0.98},{"s":1,"t":10,"v":0.94},{"s":1,"t":15,"v":0.88},{"s":1,"t":20,"v":0.76},{"s":1,"t":25,"v":0.7},{"s":1,"t":30,"v":0.66},{"s":1,"t":35,"v":0.61},{"s":1,"t":40,"v":0.57},{"s":1,"t":45,"v":0.49},{"s":1,"t":50,"v":0.41},{"s":1,"t":55,"v":0.37},{"s":1,"t":60,"v":0.34},{"s":1,"t":65,"v":0.31},{"s":1,"t":70,"v":0.22},{"s":1,"t":75,"v":0.16},{"s":1,"t":80,"v":0.08},{"s":1,"t":85,"v":0.04},{"s":1,"t":87,"v":0.138},{"s":1,"t":90,"v":0.289},{"s":1,"t":95,"v":0.529},{"s":1,"t":100,"v":0.658},{"s":1,"t":107,"v":0.777},{"s":1,"t":115,"v":0.857},{"s":1,"t":125,"v":0.919},{"s":1,"t":135,"v":0.96},{"s":1,"t":150,"v":0.989},{"s":1,"t":170,"v":1},
{"s":2,"t":0,"v":1},{"s":2,"t":5,"v":0.975},{"s":2,"t":10,"v":0.95},{"s":2,"t":15,"v":0.91},{"s":2,"t":20,"v":0.87},{"s":2,"t":25,"v":0.82},{"s":2,"t":30,"v":0.77},{"s":2,"t":35,"v":0.73},{"s":2,"t":40,"v":0.68},{"s":2,"t":45,"v":0.62},{"s":2,"t":50,"v":0.55},{"s":2,"t":55,"v":0.45},{"s":2,"t":60,"v":0.37},{"s":2,"t":65,"v":0.29},{"s":2,"t":70,"v":0.22},{"s":2,"t":75,"v":0.14},{"s":2,"t":80,"v":0.07},{"s":2,"t":85,"v":0.01},{"s":2,"t":87,"v":0.052},{"s":2,"t":90,"v":0.141},{"s":2,"t":95,"v":0.381},{"s":2,"t":100,"v":0.572},{"s":2,"t":107,"v":0.688},{"s":2,"t":115,"v":0.798},{"s":2,"t":125,"v":0.881},{"s":2,"t":135,"v":0.942},{"s":2,"t":150,"v":0.981},{"s":2,"t":170,"v":1},
{"s":3,"t":0,"v":1},{"s":3,"t":5,"v":0.98},{"s":3,"t":10,"v":0.965},{"s":3,"t":15,"v":0.955},{"s":3,"t":20,"v":0.95},{"s":3,"t":25,"v":0.945},{"s":3,"t":30,"v":0.86},{"s":3,"t":35,"v":0.79},{"s":3,"t":40,"v":0.74},{"s":3,"t":45,"v":0.72},{"s":3,"t":50,"v":0.64},{"s":3,"t":55,"v":0.55},{"s":3,"t":60,"v":0.47},{"s":3,"t":65,"v":0.45},{"s":3,"t":70,"v":0.4},{"s":3,"t":75,"v":0.31},{"s":3,"t":80,"v":0.2},{"s":3,"t":85,"v":0.07},{"s":3,"t":87,"v":0.15},{"s":3,"t":90,"v":0.31},{"s":3,"t":95,"v":0.55},{"s":3,"t":100,"v":0.67},{"s":3,"t":107,"v":0.79},{"s":3,"t":115,"v":0.865},{"s":3,"t":125,"v":0.925},{"s":3,"t":135,"v":0.962},{"s":3,"t":150,"v":0.99},{"s":3,"t":170,"v":1},
{"s":4,"t":0,"v":1},{"s":4,"t":5,"v":0.98},{"s":4,"t":10,"v":0.95},{"s":4,"t":15,"v":0.9},{"s":4,"t":20,"v":0.85},{"s":4,"t":25,"v":0.8},{"s":4,"t":30,"v":0.76},{"s":4,"t":35,"v":0.72},{"s":4,"t":40,"v":0.67},{"s":4,"t":45,"v":0.59},{"s":4,"t":50,"v":0.53},{"s":4,"t":55,"v":0.46},{"s":4,"t":60,"v":0.37},{"s":4,"t":65,"v":0.33},{"s":4,"t":70,"v":0.27},{"s":4,"t":75,"v":0.16},{"s":4,"t":80,"v":0.09},{"s":4,"t":85,"v":0.04},{"s":4,"t":87,"v":0.113},{"s":4,"t":90,"v":0.247},{"s":4,"t":95,"v":0.487},{"s":4,"t":100,"v":0.633},{"s":4,"t":107,"v":0.752},{"s":4,"t":115,"v":0.84},{"s":4,"t":125,"v":0.908},{"s":4,"t":135,"v":0.955},{"s":4,"t":150,"v":0.987},{"s":4,"t":170,"v":1},
{"s":5,"t":0,"v":1},{"s":5,"t":5,"v":0.98},{"s":5,"t":10,"v":0.94},{"s":5,"t":15,"v":0.91},{"s":5,"t":20,"v":0.86},{"s":5,"t":25,"v":0.8},{"s":5,"t":30,"v":0.76},{"s":5,"t":35,"v":0.73},{"s":5,"t":40,"v":0.69},{"s":5,"t":45,"v":0.64},{"s":5,"t":50,"v":0.58},{"s":5,"t":55,"v":0.51},{"s":5,"t":60,"v":0.43},{"s":5,"t":65,"v":0.36},{"s":5,"t":70,"v":0.27},{"s":5,"t":75,"v":0.17},{"s":5,"t":80,"v":0.1},{"s":5,"t":85,"v":0.03},{"s":5,"t":87,"v":0.077},{"s":5,"t":90,"v":0.183},{"s":5,"t":95,"v":0.423},{"s":5,"t":100,"v":0.597},{"s":5,"t":107,"v":0.713},{"s":5,"t":115,"v":0.815},{"s":5,"t":125,"v":0.892},{"s":5,"t":135,"v":0.947},{"s":5,"t":150,"v":0.983},{"s":5,"t":170,"v":1},
{"s":6,"t":0,"v":1},{"s":6,"t":5,"v":0.98},{"s":6,"t":10,"v":0.95},{"s":6,"t":15,"v":0.91},{"s":6,"t":20,"v":0.88},{"s":6,"t":25,"v":0.83},{"s":6,"t":30,"v":0.79},{"s":6,"t":35,"v":0.75},{"s":6,"t":40,"v":0.71},{"s":6,"t":45,"v":0.67},{"s":6,"t":50,"v":0.65},{"s":6,"t":55,"v":0.52},{"s":6,"t":60,"v":0.43},{"s":6,"t":65,"v":0.34},{"s":6,"t":70,"v":0.26},{"s":6,"t":75,"v":0.17},{"s":6,"t":80,"v":0.09},{"s":6,"t":85,"v":0.05},{"s":6,"t":87,"v":0.101},{"s":6,"t":90,"v":0.226},{"s":6,"t":95,"v":0.466},{"s":6,"t":100,"v":0.621},{"s":6,"t":107,"v":0.739},{"s":6,"t":115,"v":0.832},{"s":6,"t":125,"v":0.903},{"s":6,"t":135,"v":0.952},{"s":6,"t":150,"v":0.986},{"s":6,"t":170,"v":1},
{"s":7,"t":0,"v":1},{"s":7,"t":5,"v":0.985},{"s":7,"t":10,"v":0.96},{"s":7,"t":15,"v":0.91},{"s":7,"t":20,"v":0.87},{"s":7,"t":25,"v":0.84},{"s":7,"t":30,"v":0.8},{"s":7,"t":35,"v":0.76},{"s":7,"t":40,"v":0.73},{"s":7,"t":45,"v":0.69},{"s":7,"t":50,"v":0.66},{"s":7,"t":55,"v":0.56},{"s":7,"t":60,"v":0.47},{"s":7,"t":65,"v":0.4},{"s":7,"t":70,"v":0.29},{"s":7,"t":75,"v":0.18},{"s":7,"t":80,"v":0.1},{"s":7,"t":85,"v":0.05},{"s":7,"t":87,"v":0.126},{"s":7,"t":90,"v":0.268},{"s":7,"t":95,"v":0.508},{"s":7,"t":100,"v":0.646},{"s":7,"t":107,"v":0.764},{"s":7,"t":115,"v":0.848},{"s":7,"t":125,"v":0.914},{"s":7,"t":135,"v":0.957},{"s":7,"t":150,"v":0.988},{"s":7,"t":170,"v":1},
{"s":8,"t":0,"v":1},{"s":8,"t":5,"v":0.98},{"s":8,"t":10,"v":0.95},{"s":8,"t":15,"v":0.91},{"s":8,"t":20,"v":0.87},{"s":8,"t":25,"v":0.84},{"s":8,"t":30,"v":0.79},{"s":8,"t":35,"v":0.75},{"s":8,"t":40,"v":0.7},{"s":8,"t":45,"v":0.66},{"s":8,"t":50,"v":0.61},{"s":8,"t":55,"v":0.51},{"s":8,"t":60,"v":0.42},{"s":8,"t":65,"v":0.33},{"s":8,"t":70,"v":0.24},{"s":8,"t":75,"v":0.19},{"s":8,"t":80,"v":0.11},{"s":8,"t":85,"v":0.05},{"s":8,"t":87,"v":0.064},{"s":8,"t":90,"v":0.162},{"s":8,"t":95,"v":0.402},{"s":8,"t":100,"v":0.584},{"s":8,"t":107,"v":0.701},{"s":8,"t":115,"v":0.807},{"s":8,"t":125,"v":0.886},{"s":8,"t":135,"v":0.945},{"s":8,"t":150,"v":0.982},{"s":8,"t":170,"v":1},
{"s":9,"t":0,"v":1},{"s":9,"t":5,"v":0.975},{"s":9,"t":10,"v":0.94},{"s":9,"t":15,"v":0.9},{"s":9,"t":20,"v":0.86},{"s":9,"t":25,"v":0.82},{"s":9,"t":30,"v":0.78},{"s":9,"t":35,"v":0.74},{"s":9,"t":40,"v":0.7},{"s":9,"t":45,"v":0.63},{"s":9,"t":50,"v":0.58},{"s":9,"t":55,"v":0.48},{"s":9,"t":60,"v":0.39},{"s":9,"t":65,"v":0.27},{"s":9,"t":70,"v":0.19},{"s":9,"t":75,"v":0.11},{"s":9,"t":80,"v":0.04},{"s":9,"t":85,"v":0},{"s":9,"t":87,"v":0.04},{"s":9,"t":90,"v":0.12},{"s":9,"t":95,"v":0.36},{"s":9,"t":100,"v":0.56},{"s":9,"t":107,"v":0.675},{"s":9,"t":115,"v":0.79},{"s":9,"t":125,"v":0.875},{"s":9,"t":135,"v":0.94},{"s":9,"t":150,"v":0.98},{"s":9,"t":170,"v":1}
]
},
"spacing": 7,
"vconcat": [
{"spacing": 20, "hconcat": [
 {"title": "Weekday", "width": 384, "height": 344, "data": {"name": "a"},
  "resolve": {"axis": {"x": "independent", "y": "independent"}},
  "layer": [
   {"transform": [{"filter": "datum.t <= 85"}], "mark": {"type": "line", "strokeWidth": 1},
    "encoding": {
     "x": {"field": "t", "type": "quantitative", "scale": {"domain": [0, 180], "nice": false}, "axis": {"values": [0, 50, 100, 150], "format": "d", "title": "Time steps"}},
     "y": {"field": "v", "type": "quantitative", "scale": {"domain": [0, 1], "nice": false}, "axis": {"values": [0, 0.2, 0.4, 0.6, 0.8, 1], "format": "~g", "title": "Observability ratio"}},
     "color": {"field": "s", "type": "nominal"}}},
   {"transform": [{"filter": "datum.t >= 85"}], "mark": {"type": "line", "strokeWidth": 1},
    "encoding": {
     "x": {"field": "t", "type": "quantitative", "scale": {"domain": [0, 180], "nice": false}, "axis": {"orient": "top", "values": [0, 50, 100, 150], "labels": false, "title": null}},
     "y": {"field": "v", "type": "quantitative", "scale": {"domain": [0, 1], "nice": false}, "axis": {"orient": "right", "values": [0, 0.2, 0.4, 0.6, 0.8, 1], "labels": false, "title": null}},
     "color": {"field": "s", "type": "nominal"}}},
   {"data": {"values": [{}]}, "mark": {"type": "text", "fontSize": 19, "align": "center", "baseline": "alphabetic", "color": "#000000", "clip": true},
    "encoding": {"x": {"datum": 85.2, "type": "quantitative", "scale": {"domain": [0, 180], "nice": false}, "axis": null}, "y": {"datum": 0.911, "type": "quantitative", "scale": {"domain": [0, 1], "nice": false}, "axis": null}, "text": {"value": "Comparative case 1"}}},
   {"data": {"values": [{}]}, "mark": {"type": "text", "fontSize": 26, "align": "center", "baseline": "alphabetic", "color": "#000000", "clip": true},
    "encoding": {"x": {"datum": 18, "type": "quantitative", "scale": {"domain": [0, 180], "nice": false}, "axis": null}, "y": {"datum": 0.065, "type": "quantitative", "scale": {"domain": [0, 1], "nice": false}, "axis": null}, "text": {"value": "(a)"}}},
   {"data": {"values": [{}]}, "mark": {"type": "text", "fontSize": 19, "align": "left", "baseline": "alphabetic", "lineHeight": 21.6, "color": "#000000", "clip": true},
    "encoding": {"x": {"datum": 102, "type": "quantitative", "scale": {"domain": [0, 180], "nice": false}, "axis": null}, "y": {"datum": 0.135, "type": "quantitative", "scale": {"domain": [0, 1], "nice": false}, "axis": null}, "text": {"value": ["Mean Resilience =", "0.656"]}}}
  ]},
 {"title": "Weekday", "width": 374, "height": 344, "data": {"name": "b"},
  "resolve": {"axis": {"x": "independent", "y": "independent"}},
  "layer": [
   {"transform": [{"filter": "datum.t <= 85"}], "mark": {"type": "line", "strokeWidth": 1},
    "encoding": {
     "x": {"field": "t", "type": "quantitative", "scale": {"domain": [0, 176], "nice": false}, "axis": {"values": [0, 50, 100, 150], "format": "d", "title": "Time steps"}},
     "y": {"field": "v", "type": "quantitative", "scale": {"domain": [0, 1], "nice": false}, "axis": {"values": [0, 0.2, 0.4, 0.6, 0.8, 1], "format": "~g", "title": "Observability ratio"}},
     "color": {"field": "s", "type": "nominal"}}},
   {"transform": [{"filter": "datum.t >= 85"}], "mark": {"type": "line", "strokeWidth": 1, "interpolate": "monotone"},
    "encoding": {
     "x": {"field": "t", "type": "quantitative", "scale": {"domain": [0, 176], "nice": false}, "axis": {"orient": "top", "values": [0, 50, 100, 150], "labels": false, "title": null}},
     "y": {"field": "v", "type": "quantitative", "scale": {"domain": [0, 1], "nice": false}, "axis": {"orient": "right", "values": [0, 0.2, 0.4, 0.6, 0.8, 1], "labels": false, "title": null}},
     "color": {"field": "s", "type": "nominal"}}},
   {"data": {"values": [{}]}, "mark": {"type": "text", "fontSize": 19, "align": "center", "baseline": "alphabetic", "color": "#000000", "clip": true},
    "encoding": {"x": {"datum": 76.5, "type": "quantitative", "scale": {"domain": [0, 176], "nice": false}, "axis": null}, "y": {"datum": 0.913, "type": "quantitative", "scale": {"domain": [0, 1], "nice": false}, "axis": null}, "text": {"value": "Comparative case 2"}}},
   {"data": {"values": [{}]}, "mark": {"type": "text", "fontSize": 26, "align": "center", "baseline": "alphabetic", "color": "#000000", "clip": true},
    "encoding": {"x": {"datum": 17.5, "type": "quantitative", "scale": {"domain": [0, 176], "nice": false}, "axis": null}, "y": {"datum": 0.072, "type": "quantitative", "scale": {"domain": [0, 1], "nice": false}, "axis": null}, "text": {"value": "(b)"}}},
   {"data": {"values": [{}]}, "mark": {"type": "text", "fontSize": 19, "align": "left", "baseline": "alphabetic", "lineHeight": 21.6, "color": "#000000", "clip": true},
    "encoding": {"x": {"datum": 96.4, "type": "quantitative", "scale": {"domain": [0, 176], "nice": false}, "axis": null}, "y": {"datum": 0.106, "type": "quantitative", "scale": {"domain": [0, 1], "nice": false}, "axis": null}, "text": {"value": ["Mean Resilience =", "0.700"]}}}
  ]}
]},
{"spacing": 20, "hconcat": [
 {"title": "Weekend", "width": 384, "height": 344, "data": {"name": "c"},
  "resolve": {"axis": {"x": "independent", "y": "independent"}},
  "layer": [
   {"transform": [{"filter": "datum.t <= 85"}], "mark": {"type": "line", "strokeWidth": 1},
    "encoding": {
     "x": {"field": "t", "type": "quantitative", "scale": {"domain": [0, 180], "nice": false}, "axis": {"values": [0, 50, 100, 150], "format": "d", "title": "Time steps"}},
     "y": {"field": "v", "type": "quantitative", "scale": {"domain": [0, 1], "nice": false}, "axis": {"values": [0, 0.2, 0.4, 0.6, 0.8, 1], "format": "~g", "title": "Observability ratio"}},
     "color": {"field": "s", "type": "nominal"}}},
   {"transform": [{"filter": "datum.t >= 85"}], "mark": {"type": "line", "strokeWidth": 1},
    "encoding": {
     "x": {"field": "t", "type": "quantitative", "scale": {"domain": [0, 180], "nice": false}, "axis": {"orient": "top", "values": [0, 50, 100, 150], "labels": false, "title": null}},
     "y": {"field": "v", "type": "quantitative", "scale": {"domain": [0, 1], "nice": false}, "axis": {"orient": "right", "values": [0, 0.2, 0.4, 0.6, 0.8, 1], "labels": false, "title": null}},
     "color": {"field": "s", "type": "nominal"}}},
   {"data": {"values": [{}]}, "mark": {"type": "text", "fontSize": 19, "align": "center", "baseline": "alphabetic", "color": "#000000", "clip": true},
    "encoding": {"x": {"datum": 85.2, "type": "quantitative", "scale": {"domain": [0, 180], "nice": false}, "axis": null}, "y": {"datum": 0.908, "type": "quantitative", "scale": {"domain": [0, 1], "nice": false}, "axis": null}, "text": {"value": "Comparative case 1"}}},
   {"data": {"values": [{}]}, "mark": {"type": "text", "fontSize": 26, "align": "center", "baseline": "alphabetic", "color": "#000000", "clip": true},
    "encoding": {"x": {"datum": 17.6, "type": "quantitative", "scale": {"domain": [0, 180], "nice": false}, "axis": null}, "y": {"datum": 0.087, "type": "quantitative", "scale": {"domain": [0, 1], "nice": false}, "axis": null}, "text": {"value": "(c)"}}},
   {"data": {"values": [{}]}, "mark": {"type": "text", "fontSize": 19, "align": "left", "baseline": "alphabetic", "lineHeight": 21.6, "color": "#000000", "clip": true},
    "encoding": {"x": {"datum": 102.5, "type": "quantitative", "scale": {"domain": [0, 180], "nice": false}, "axis": null}, "y": {"datum": 0.133, "type": "quantitative", "scale": {"domain": [0, 1], "nice": false}, "axis": null}, "text": {"value": ["Mean Resilience =", "0.662"]}}}
  ]},
 {"title": "Weekend", "width": 374, "height": 344, "data": {"name": "d"},
  "resolve": {"axis": {"x": "independent", "y": "independent"}},
  "layer": [
   {"transform": [{"filter": "datum.t <= 85"}], "mark": {"type": "line", "strokeWidth": 1},
    "encoding": {
     "x": {"field": "t", "type": "quantitative", "scale": {"domain": [0, 176], "nice": false}, "axis": {"values": [0, 50, 100, 150], "format": "d", "title": "Time steps"}},
     "y": {"field": "v", "type": "quantitative", "scale": {"domain": [0, 1], "nice": false}, "axis": {"values": [0, 0.2, 0.4, 0.6, 0.8, 1], "format": "~g", "title": "Observability ratio"}},
     "color": {"field": "s", "type": "nominal"}}},
   {"transform": [{"filter": "datum.t >= 85"}], "mark": {"type": "line", "strokeWidth": 1, "interpolate": "monotone"},
    "encoding": {
     "x": {"field": "t", "type": "quantitative", "scale": {"domain": [0, 176], "nice": false}, "axis": {"orient": "top", "values": [0, 50, 100, 150], "labels": false, "title": null}},
     "y": {"field": "v", "type": "quantitative", "scale": {"domain": [0, 1], "nice": false}, "axis": {"orient": "right", "values": [0, 0.2, 0.4, 0.6, 0.8, 1], "labels": false, "title": null}},
     "color": {"field": "s", "type": "nominal"}}},
   {"data": {"values": [{}]}, "mark": {"type": "text", "fontSize": 19, "align": "center", "baseline": "alphabetic", "color": "#000000", "clip": true},
    "encoding": {"x": {"datum": 76.5, "type": "quantitative", "scale": {"domain": [0, 176], "nice": false}, "axis": null}, "y": {"datum": 0.91, "type": "quantitative", "scale": {"domain": [0, 1], "nice": false}, "axis": null}, "text": {"value": "Comparative case 2"}}},
   {"data": {"values": [{}]}, "mark": {"type": "text", "fontSize": 26, "align": "center", "baseline": "alphabetic", "color": "#000000", "clip": true},
    "encoding": {"x": {"datum": 17.5, "type": "quantitative", "scale": {"domain": [0, 176], "nice": false}, "axis": null}, "y": {"datum": 0.084, "type": "quantitative", "scale": {"domain": [0, 1], "nice": false}, "axis": null}, "text": {"value": "(d)"}}},
   {"data": {"values": [{}]}, "mark": {"type": "text", "fontSize": 19, "align": "left", "baseline": "alphabetic", "lineHeight": 21.6, "color": "#000000", "clip": true},
    "encoding": {"x": {"datum": 102.2, "type": "quantitative", "scale": {"domain": [0, 176], "nice": false}, "axis": null}, "y": {"datum": 0.11, "type": "quantitative", "scale": {"domain": [0, 1], "nice": false}, "axis": null}, "text": {"value": ["Mean Resilience =", "0.693"]}}}
  ]}
]}
]
}
